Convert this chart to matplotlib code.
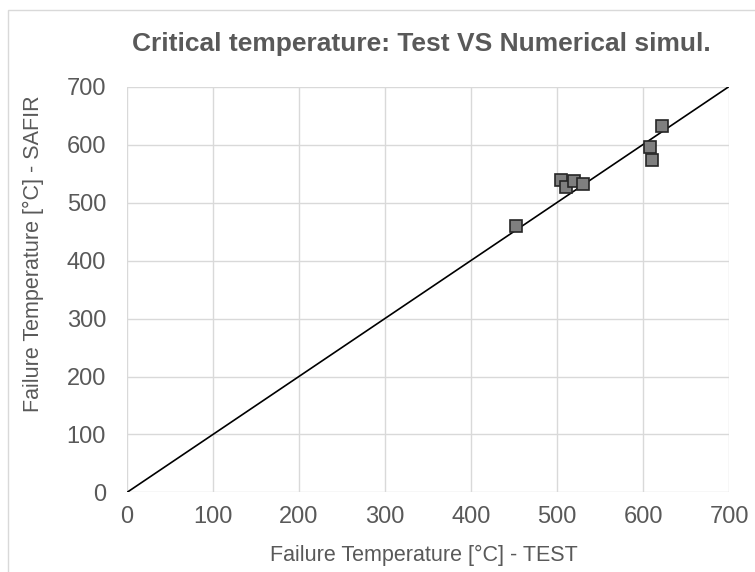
import numpy as np
import matplotlib.pyplot as plt
from matplotlib.patches import Rectangle

plt.rcParams['font.family'] = ['Liberation Sans', 'DejaVu Sans']

t_test = [452, 505, 510, 520, 530, 608, 610, 622]
t_safir = [460, 538, 527, 537, 532, 596, 574, 632]
ticks = [0, 100, 200, 300, 400, 500, 600, 700]

txt = '#595959'
fig = plt.figure(figsize=(7.55, 5.72), dpi=100)
fig.patches.append(Rectangle((8/755, -0.01), 1.0, 1 - 10/572 + 0.01, transform=fig.transFigure,
                             fill=False, edgecolor='#d9d9d9', linewidth=1.0))
ax = fig.add_axes([0.168, 0.139, 0.7976, 0.7097])

ax.plot([0, 700], [0, 700], color='black', linewidth=1.2, zorder=2)
ax.plot(t_test, t_safir, linestyle='none', marker='s', markersize=8.5,
        markerfacecolor='#7f7f7f', markeredgecolor='#262626', markeredgewidth=1.2, zorder=3)

ax.set_xlim(0, 700)
ax.set_ylim(0, 700)
ax.set_xticks(ticks)
ax.set_yticks(ticks)
ax.grid(True, color='#d9d9d9', linewidth=1.0)
ax.set_axisbelow(True)
for s in ax.spines.values():
    s.set_visible(False)
ax.tick_params(length=0, labelsize=17, labelcolor=txt)
ax.tick_params(axis='x', pad=10)
ax.tick_params(axis='y', pad=15)

ax.set_xlabel('Failure Temperature [°C] - TEST', fontsize=15.5, color=txt, va='center')
ax.set_ylabel('Failure Temperature [°C] - SAFIR', fontsize=15.5, color=txt, va='center')
ax.xaxis.set_label_coords(0.494, -0.155)
ax.yaxis.set_label_coords(-0.1545, 0.589)
fig.text(0.558, 0.923, 'Critical temperature: Test VS Numerical simul.', ha='center', va='center',
         fontsize=19, fontweight='bold', color=txt)

fig.savefig('out.png', dpi=100)
